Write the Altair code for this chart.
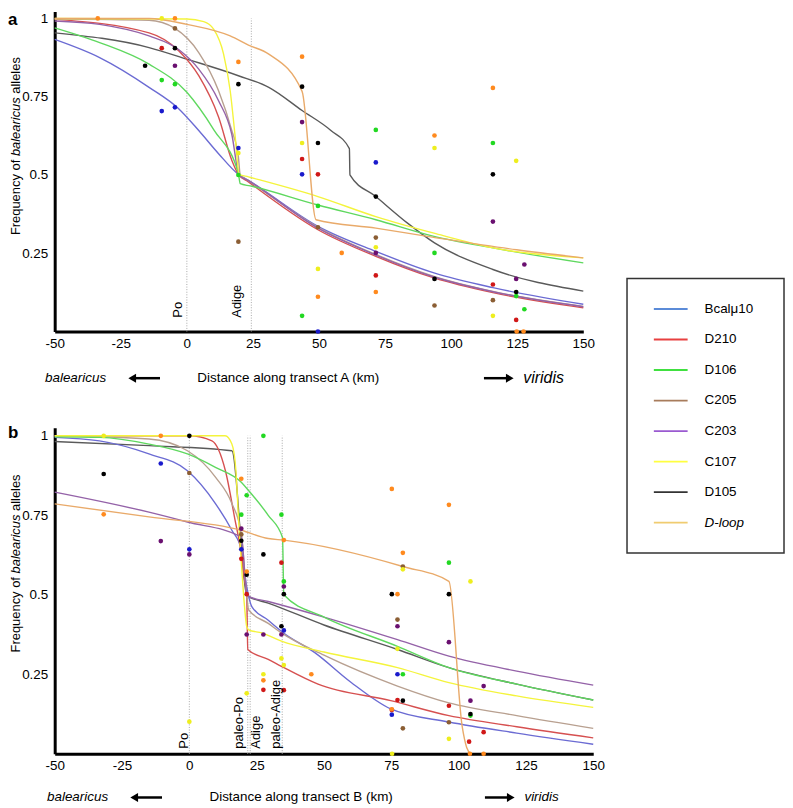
import altair as alt
import pandas as pd

FONT = "Liberation Sans, Arial, Helvetica, sans-serif"

SERIES = ["Bcalμ10", "D210", "D106", "C205", "C203", "C107", "D105", "D-loop"]
DRAW_ORDER = ["D105", "Bcalμ10", "D210", "C205", "C203", "D106", "C107", "D-loop"]
LINE_COLORS = ["#6b6bd3", "#d65050", "#5fd85f", "#b8a090", "#9462a8", "#f4f43c", "#5a5a5a", "#e9aa6a"]
POINT_COLORS = ["#1a1acc", "#d01818", "#22d822", "#8b5e34", "#6a1070", "#eeee1e", "#000000", "#ff8a1e"]
LEGEND_COLORS = ["#5b8bd8", "#e84040", "#40e040", "#a87c5c", "#9a5ad0", "#ffff40", "#333333", "#f0cc70"]

X_TICKS = [-50, -25, 0, 25, 50, 75, 100, 125, 150]
Y_TICKS = [0.25, 0.5, 0.75, 1]

# ---------------- panel a (transect A) ----------------
A_CURVES = {
    "Bcalμ10": ([-50, -33, -14.3, -3, 4.5, 12, 19.5, 23.3, 49.6, 71.5, 93.5, 115.8, 150],
                [0.933, 0.875, 0.78, 0.711, 0.642, 0.568, 0.502, 0.483, 0.336, 0.256, 0.187, 0.14, 0.087]),
    "D210": ([-50, -14.3, -3, 4.5, 12, 17, 19.5, 23.3, 49.6, 71.5, 93.5, 115.8, 150],
             [0.997, 0.954, 0.896, 0.817, 0.685, 0.547, 0.502, 0.478, 0.325, 0.24, 0.171, 0.124, 0.076]),
    "D106": ([-50, -33, -14.3, 0, 10.4, 19.5, 20.2, 24, 49.6, 71.5, 93.5, 115.8, 150],
             [0.97, 0.923, 0.854, 0.764, 0.642, 0.505, 0.472, 0.465, 0.404, 0.357, 0.304, 0.267, 0.219]),
    "C205": ([-50, -14.3, -4.5, 4.5, 12, 17, 19.5, 20.2, 23.3, 49.6, 71.5, 93.5, 115.8, 150],
             [0.998, 0.994, 0.968, 0.891, 0.769, 0.642, 0.558, 0.5, 0.482, 0.333, 0.246, 0.176, 0.128, 0.08]),
    "C203": ([-50, -33, -14.3, -3, 4.5, 12, 17, 19.8, 23.3, 49.6, 71.5, 93.5, 115.8, 150],
             [0.992, 0.981, 0.944, 0.9, 0.838, 0.737, 0.63, 0.5, 0.482, 0.33, 0.244, 0.174, 0.127, 0.079]),
    "C107": ([-50, 0, 6.4, 10.2, 13.9, 16.4, 18.3, 19.8, 23.3, 49.6, 71.5, 93.5, 115.8, 150],
             [1.0, 0.998, 0.99, 0.965, 0.886, 0.769, 0.621, 0.502, 0.494, 0.431, 0.367, 0.314, 0.267, 0.235]),
    "D105": ([-50, -14.3, 0, 19.5, 31, 43.6, 54.5, 61.5, 61.7, 71.5, 83.5, 93.7, 115.8, 150],
             [0.954, 0.907, 0.87, 0.817, 0.78, 0.706, 0.642, 0.584, 0.5, 0.431, 0.346, 0.283, 0.198, 0.129]),
    "D-loop": ([-50, -14.3, 0, 16.4, 23.3, 31, 43.6, 48.9, 71.5, 91, 124.8, 150],
               [1.0, 1.0, 0.981, 0.944, 0.915, 0.886, 0.767, 0.357, 0.33, 0.304, 0.261, 0.235]),
}
A_POINTS = {
    "Bcalμ10": ([-9.5, -4.5, 19.5, 43.6, 71.5, 49.6], [0.704, 0.716, 0.586, 0.502, 0.54, 0.0]),
    "D210": ([-9.5, 43.6, 49.6, 71.5, 115.8, 124.6], [0.905, 0.551, 0.502, 0.179, 0.15, 0.037]),
    "D106": ([-9.5, -4.5, 19.5, 43.6, 49.6, 71.5, 93.7, 115.8, 124.6, 127.7],
             [0.803, 0.79, 0.5, 0.05, 0.401, 0.644, 0.251, 0.602, 0.113, 0.071]),
    "C205": ([-4.5, 19.5, 49.6, 71.5, 93.7, 115.8], [0.968, 0.287, 0.333, 0.3, 0.083, 0.1]),
    "C203": ([-4.5, 43.6, 71.5, 115.8, 124.6, 127.7], [0.849, 0.669, 0.251, 0.351, 0.168, 0.214]),
    "C107": ([-9.5, 19.5, 43.6, 49.6, 71.5, 93.7, 115.8, 124.6],
             [1.0, 0.57, 0.602, 0.2, 0.269, 0.586, 0.05, 0.545]),
    "D105": ([-15.8, -4.5, 19.5, 43.6, 49.6, 71.5, 93.7, 115.8, 124.6],
             [0.849, 0.905, 0.79, 0.782, 0.602, 0.431, 0.168, 0.502, 0.126]),
    "D-loop": ([-33.7, -4.5, 19.5, 43.6, 49.6, 58.6, 71.5, 93.7, 115.8, 124.8, 127.4],
               [1.0, 1.0, 0.861, 0.878, 0.111, 0.251, 0.126, 0.626, 0.778, 0.0, 0.0]),
}
A_RIVER_KM = [0, 24.4]
A_RIVER_LABELS = ["Po", "Adige"]
A_RIVER_LABEL_KM = [-3.4, 18.8]

# ---------------- panel b (transect B) ----------------
B_CURVES = {
    "Bcalμ10": ([-50, -33.4, -15, -0.7, 9.7, 15.8, 19.3, 21.3, 23.2, 29.3, 35, 46.6, 60, 74.8, 96.4, 121.6, 150],
                [0.995, 0.984, 0.943, 0.89, 0.787, 0.703, 0.643, 0.526, 0.463, 0.42, 0.38, 0.318, 0.225, 0.141, 0.1, 0.065, 0.03]),
    "D210": ([-50, 0, 8.4, 13.4, 17, 19.3, 20.5, 21.3, 21.7, 29.3, 34.2, 47.8, 74.8, 96.4, 121.6, 150],
             [1.0, 1.0, 0.984, 0.89, 0.734, 0.63, 0.547, 0.502, 0.328, 0.297, 0.275, 0.219, 0.167, 0.12, 0.085, 0.05]),
    "D106": ([-50, -33.4, -15, -0.7, 9.7, 19.3, 22, 29.3, 34.6, 35.1, 50, 77.3, 96.4, 121.6, 150],
             [0.997, 0.995, 0.974, 0.943, 0.901, 0.854, 0.828, 0.75, 0.68, 0.5, 0.43, 0.338, 0.271, 0.219, 0.169]),
    "C205": ([-50, -15, -0.7, 9.7, 15.8, 19.3, 21.3, 22, 29.3, 34.2, 50, 77.3, 96.4, 121.6, 150],
             [1.0, 0.99, 0.953, 0.87, 0.787, 0.693, 0.5, 0.453, 0.41, 0.38, 0.31, 0.213, 0.16, 0.12, 0.08]),
    "C203": ([-50, -15, -0.7, 19.3, 21.3, 22, 29.3, 50, 77.3, 96.4, 121.6, 150],
             [0.823, 0.76, 0.729, 0.682, 0.505, 0.495, 0.479, 0.43, 0.359, 0.307, 0.26, 0.216]),
    "C107": ([-50, 13.3, 15.8, 17.3, 18.3, 19.5, 20.5, 21.3, 22, 26.9, 34.2, 50, 77.3, 96.4, 121.6, 150],
             [1.0, 1.0, 0.974, 0.89, 0.734, 0.578, 0.463, 0.401, 0.39, 0.38, 0.354, 0.32, 0.271, 0.224, 0.182, 0.146]),
    "D105": ([-50, -15, 15.8, 21.3, 22, 29.3, 50, 77.3, 96.4, 121.6, 150],
             [0.982, 0.969, 0.953, 0.5, 0.495, 0.474, 0.405, 0.328, 0.271, 0.219, 0.169]),
    "D-loop": ([-50, -15, 19.3, 29.3, 35.1, 79.3, 96.4, 101.3, 103, 104.5],
               [0.786, 0.745, 0.703, 0.677, 0.672, 0.589, 0.542, 0.088, 0.02, 0.0]),
}
B_POINTS = {
    "Bcalμ10": ([-10.6, 0, 19.3, 35.1, 77.3, 75.2], [0.913, 0.643, 0.643, 0.388, 0.25, 0.123]),
    "D210": ([19.3, 21.3, 27.5, 34.2, 35.1, 77.3, 75.2, 96.4, 109.3, 103.9],
             [0.613, 0.502, 0.201, 0.601, 0.2, 0.169, 0.138, 0.151, 0.068, 0.038]),
    "D106": ([27.5, 21.3, 19.3, 34.2, 35.1, 96.4, 79.3, 104.4],
             [1.0, 0.813, 0.752, 0.752, 0.542, 0.601, 0.25, 0.12]),
    "C205": ([0, 19.3, 79.3, 77.3, 96.4, 79.3], [0.883, 0.69, 0.589, 0.422, 0.099, 0.08]),
    "C203": ([-10.6, 0, 19.3, 21.3, 27.5, 35.1, 34.2, 77.3, 96.4, 109.3, 104.4],
             [0.669, 0.627, 0.708, 0.375, 0.375, 0.526, 0.375, 0.401, 0.351, 0.213, 0.167]),
    "C107": ([-31.8, 0, 21.3, 27.5, 34.2, 35.1, 79.3, 104.4, 77.3, 96.4, 75.3],
             [1.0, 0.101, 0.19, 0.25, 0.3, 0.279, 0.58, 0.542, 0.33, 0.047, 0.0]),
    "D105": ([-31.8, 0, 19.3, 21.3, 27.5, 35.1, 34.2, 75.2, 96.4, 79.3, 104.4],
             [0.88, 1.0, 0.67, 0.563, 0.627, 0.502, 0.401, 0.502, 0.502, 0.167, 0.125]),
    "D-loop": ([-31.8, -10.6, 19.3, 21.3, 27.5, 35.1, 45.3, 75.2, 96.4, 79.3, 77.3, 75.2, 104.2, 109.3],
               [0.753, 1.0, 0.865, 0.573, 0.231, 0.672, 0.25, 0.833, 0.783, 0.632, 0.502, 0.14, 0.0, 0.0]),
}
B_RIVER_KM = [0, 21.7, 22.6, 34.5]
B_RIVER_LABELS = ["Po", "paleo-Po", "Adige", "paleo-Adige"]
B_RIVER_LABEL_KM = [-2.0, 18.6, 24.9, 32.3]


def one():
    return pd.DataFrame({"k": [0]})


def txt(t, x, y, size=13, style="normal", weight="normal", align="center",
        baseline="middle", angle=0):
    return alt.Chart(one()).mark_text(
        text=t, font=FONT, fontSize=size, fontStyle=style, fontWeight=weight,
        align=align, baseline=baseline, angle=angle, color="black"
    ).encode(x=alt.value(x), y=alt.value(y))


def arrow(x_tip, x_tail, y):
    left = x_tail > x_tip
    d = 4 if left else -4
    shape = "triangle-left" if left else "triangle-right"
    hc = x_tip + d
    rule = alt.Chart(one()).mark_rule(color="black", strokeWidth=2.5).encode(
        x=alt.value(hc), x2=alt.value(x_tail), y=alt.value(y))
    head = alt.Chart(one()).mark_point(shape=shape, filled=True, color="black",
                                       opacity=1, size=80).encode(
        x=alt.value(hc), y=alt.value(y))
    return [rule, head]


def curve_frame(curves):
    rows = []
    for s in DRAW_ORDER:
        xs, ys = curves[s]
        for i, (x, y) in enumerate(zip(xs, ys)):
            rows.append({"series": s, "km": x, "freq": y, "i": i})
    return pd.DataFrame(rows)


def point_frame(points):
    rows = []
    for s in SERIES:
        xs, ys = points[s]
        for x, y in zip(xs, ys):
            rows.append({"series": s, "km": x, "freq": y})
    return pd.DataFrame(rows)


def panel(curves, points, river_km, river_labels, river_label_km, label_v,
          width, height, ytop, letter, letter_y, transect, bottom_y,
          pos, viridis_size, title_start):
    xs = alt.Scale(domain=[-50, 150], nice=False, zero=False)
    ys = alt.Scale(domain=[0, ytop], nice=False, zero=False)
    xaxis = alt.Axis(values=X_TICKS, title=None, grid=False, ticks=False,
                     labelExpr="(datum.value < 0 ? '-' : '') + abs(datum.value)",
                     labelPadding=5, labelFlush=False, labelOverlap=False,
                     domainColor="black", domainWidth=3, labelFont=FONT,
                     labelFontSize=13.5, labelColor="black")
    yaxis = alt.Axis(values=Y_TICKS, format=".2~f", title=None, grid=False, ticks=False,
                     labelPadding=7, labelOverlap=False, domainColor="black",
                     domainWidth=3, labelFont=FONT, labelFontSize=13.5,
                     labelColor="black")
    X = alt.X("km:Q", scale=xs, axis=xaxis)
    Y = alt.Y("freq:Q", scale=ys, axis=yaxis)

    rdf = pd.DataFrame({"km": river_km, "freq": [0.0] * len(river_km),
                        "freq2": [1.0] * len(river_km)})
    rivers = alt.Chart(rdf).mark_rule(color="#a8a8a8", strokeWidth=1,
                                      strokeDash=[1, 1.6]).encode(
        x=X, y=Y, y2=alt.Y2("freq2:Q"))

    ldf = pd.DataFrame({"km": river_label_km, "freq": [label_v] * len(river_label_km),
                        "label": river_labels})
    rlabels = alt.Chart(ldf).mark_text(angle=270, align="left", baseline="middle",
                                       font=FONT, fontSize=13, color="black").encode(
        x=X, y=Y, text="label:N")

    lines = alt.Chart(curve_frame(curves)).mark_line(
        strokeWidth=1.4, interpolate="monotone").encode(
        x=X, y=Y,
        color=alt.Color("series:N", scale=alt.Scale(domain=SERIES, range=LINE_COLORS),
                        legend=None),
        order=alt.Order("i:Q"))

    pts = alt.Chart(point_frame(points)).mark_circle(size=22, opacity=1).encode(
        x=X, y=Y,
        fill=alt.Fill("series:N", scale=alt.Scale(domain=SERIES, range=POINT_COLORS),
                      legend=None))

    layers = [rivers, lines, pts, rlabels]
    # panel letter
    layers.append(txt(letter, -47, letter_y, size=17, weight="bold", align="left",
                      baseline="alphabetic"))
    # y title with italic species name
    tx = -39
    layers.append(txt("Frequency of", tx, title_start, align="left", angle=270))
    layers.append(txt("balearicus", tx, title_start - 79.5, style="italic",
                      align="left", angle=270))
    layers.append(txt("alleles", tx, title_start - 142.3, align="left", angle=270))
    # bottom direction text
    layers.append(txt("balearicus", pos["bal"], bottom_y, size=13.5, style="italic"))
    layers.append(txt("Distance along transect %s (km)" % transect, pos["dist"],
                      bottom_y, size=13.5))
    layers.append(txt("viridis", pos["vir"], bottom_y, size=viridis_size, style="italic"))
    layers += arrow(pos["la_tip"], pos["la_tail"], bottom_y)
    layers += arrow(pos["ra_tip"], pos["ra_tail"], bottom_y)

    return alt.layer(*layers).properties(width=width, height=height)


panel_a = panel(A_CURVES, A_POINTS, A_RIVER_KM, A_RIVER_LABELS, A_RIVER_LABEL_KM, 0.044,
                532, 322, 1.022, "a", 13.6, "A", 369,
                {"bal": 21, "dist": 235, "vir": 492, "la_tip": 74, "la_tail": 106,
                 "ra_tip": 462, "ra_tail": 432}, 16, 225)
panel_b = panel(B_CURVES, B_POINTS, B_RIVER_KM, B_RIVER_LABELS, B_RIVER_LABEL_KM, 0.016,
                542, 328, 1.025, "b", 10, "B", 372,
                {"bal": 23, "dist": 248, "vir": 490, "la_tip": 76, "la_tail": 108,
                 "ra_tip": 463, "ra_tail": 433}, 13.5, 226)

panels = alt.vconcat(panel_a, panel_b, spacing=97, bounds="flush").resolve_scale(
    x="independent", y="independent")

# ---------------- legend ----------------
LEG_W = 158
leg_df = pd.DataFrame({"name": SERIES, "idx": list(range(len(SERIES)))})
ly = alt.Y("idx:Q", scale=alt.Scale(domain=[-9.75, 8.0], reverse=True, nice=False,
                                    zero=False), axis=None)
box = alt.Chart(pd.DataFrame({"idx": [-1.0], "idx2": [8.0]})).mark_rect(
    fill="white", fillOpacity=0, stroke="#333333", strokeWidth=1.5).encode(
    x=alt.value(0), x2=alt.value(LEG_W), y=ly, y2=alt.Y2("idx2:Q"))
leg_lines = alt.Chart(leg_df).mark_rule(strokeWidth=1.8).encode(
    x=alt.value(27), x2=alt.value(61), y=ly,
    stroke=alt.Stroke("name:N", scale=alt.Scale(domain=SERIES, range=LEGEND_COLORS),
                      legend=None))
leg_text = alt.Chart(leg_df).transform_filter("datum.name != 'D-loop'").mark_text(
    align="left", baseline="middle", font=FONT, fontSize=13.5, color="black").encode(
    x=alt.value(78), y=ly, text="name:N")
leg_text_it = alt.Chart(leg_df).transform_filter("datum.name == 'D-loop'").mark_text(
    align="left", baseline="middle", font=FONT, fontSize=13.5, fontStyle="italic",
    color="black").encode(x=alt.value(78), y=ly, text="name:N")
legend = alt.layer(box, leg_lines, leg_text, leg_text_it).properties(width=LEG_W, height=545)

chart = alt.hconcat(panels, legend, spacing=21).properties(padding=0).configure_view(
    strokeWidth=0)

chart.save("out.html", embed_options={"renderer": "svg", "actions": False})
